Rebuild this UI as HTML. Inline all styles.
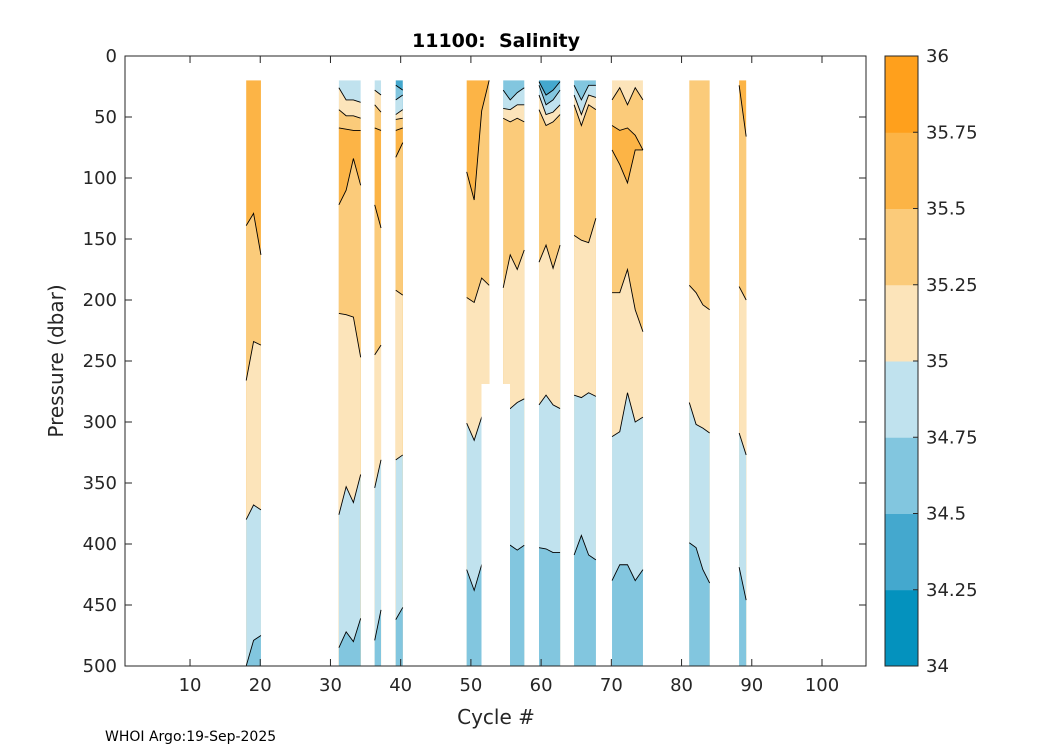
<!DOCTYPE html>
<html><head><meta charset="utf-8"><style>
body{margin:0;background:#fff}
svg text{font-family:"DejaVu Sans","Liberation Sans",sans-serif;fill:#262626}
</style></head><body>
<svg id="chart" width="1050" height="750" xmlns="http://www.w3.org/2000/svg">
<rect width="1050" height="750" fill="#fff"/>
<text x="496" y="47" text-anchor="middle" font-size="19" font-weight="bold" style="fill:#000">11100:&#160; Salinity</text>
<g id="plot"></g>
<text x="496" y="724" text-anchor="middle" font-size="20">Cycle #</text>
<text transform="translate(63,361) rotate(-90)" text-anchor="middle" font-size="20">Pressure (dbar)</text>
<text x="105" y="741" font-size="14" style="fill:#000">WHOI Argo:19-Sep-2025</text>
</svg>
<script>
const bandColors=["#0492BE","#44A8CE","#82C6DF","#C0E2EE","#FCE4BA","#FBCB7A","#FCB446","#FFA01C"];
const cbLabels=["34","34.25","34.5","34.75","35","35.25","35.5","35.75","36"];
const xTicks=[10,20,30,40,50,60,70,80,90,100];
const yTicks=[0,50,100,150,200,250,300,350,400,450,500];
const pTop=20, pBottom=500;
// strips: [startCycle, endCycle]
const stripRanges=[[18,20.1],[31.2,34.3],[36.3,37.2],[39.3,40.3],[49.4,52.6],[54.6,57.6],[59.7,62.7],[64.7,67.8],[70.1,74.5],[81.1,84.0],[88.2,89.2]];
const stripTopBand=[6,3,3,1,6,2,1,2,4,5,6];
// interfaces per strip: [bandBelow, pressures across strip]
const stripInterfaces=[
 [[5,[139,129,163]],[4,[266,234,237]],[3,[380,368,372]],[2,[500,479,475]]],
 [[4,[26,36,36,38]],[5,[44,49,49,51]],[6,[59,60,61,61]],[5,[122,110,84,106]],[4,[211,212,214,247]],[3,[376,353,366,343]],[2,[485,472,480,461]]],
 [[4,[28,32]],[5,[40,46]],[6,[59,61]],[5,[122,141]],[4,[245,237]],[3,[354,331]],[2,[479,454]]],
 [[2,[24,28]],[3,[36,32]],[4,[48,44]],[5,[52,51]],[6,[61,59]],[5,[83,71]],[4,[192,196]],[3,[331,327]],[2,[462,452]]],
 [[5,[95,118,45,20]],[4,[198,202,182,188]],[3,[301,315,296,296]],[2,[421,438,417,417]]],
 [[3,[28,36,30,26]],[4,[43,44,40,40]],[5,[51,54,51,54]],[4,[190,163,175,159]],[3,[284,289,284,281]],[2,[401,401,405,401]]],
 [[2,[21,32,28,21]],[3,[24,40,36,28]],[4,[32,48,46,40]],[5,[44,57,54,48]],[4,[169,155,174,155]],[3,[286,278,286,289]],[2,[403,404,407,407]]],
 [[3,[24,36,24,24]],[4,[32,48,32,34]],[5,[40,57,40,44]],[4,[147,151,153,133]],[3,[278,280,276,279]],[2,[409,393,409,413]]],
 [[5,[36,26,40,26,36]],[6,[57,61,59,65,77]],[5,[77,89,104,77,77]],[4,[194,194,175,208,226]],[3,[312,308,276,300,296]],[2,[430,417,417,430,421]]],
 [[4,[188,194,204,208]],[3,[284,302,305,309]],[2,[399,403,421,432]]],
 [[5,[24,66]],[4,[189,200]],[3,[309,327]],[2,[419,446]]]
];
const NS="http://www.w3.org/2000/svg";
const L=125,R=866,T=56,B=666;
const xs=c=>119.8+c*7.022;
const ys=p=>T+p*(B-T)/500;
const g=document.getElementById('plot');
function mk(tag,attrs,parent){const e=document.createElementNS(NS,tag);for(const k in attrs)e.setAttribute(k,attrs[k]);(parent||g).appendChild(e);return e;}
const plotBg=mk('rect',{x:L,y:T,width:R-L,height:B-T,fill:'#fff'});


stripRanges.forEach((r,si)=>{
  const sg=mk('g',{});
  
  
  const x0=xs(r[0]),x1=xs(r[1]);
  const top=mk('rect',{x:x0,y:ys(pTop),width:x1-x0,height:ys(pBottom)-ys(pTop),fill:bandColors[stripTopBand[si]]},sg);
  
  
  stripInterfaces[si].forEach(([band,ps])=>{
    const n=ps.length;
    const pts=ps.map((p,i)=>[x0+(x1-x0)*i/(n-1),ys(Math.max(p,pTop))]);
    const poly=pts.map(q=>q.join(',')).join(' ')+` ${x1},${ys(pBottom)} ${x0},${ys(pBottom)}`;
    const f=mk('polygon',{points:poly,fill:bandColors[band]},sg);
    
    
    if(ps.some(p=>p>pTop) && ps.some(p=>p<pBottom)){
      const ln=mk('polyline',{points:pts.map(q=>q.join(',')).join(' '),fill:'none',stroke:'#000','stroke-width':0.9},sg);
      
      
    }
  });
});
const notch=mk('rect',{x:481.5,y:384,width:28.5,height:B-384,fill:'#fff'});


const frame=mk('rect',{x:L,y:T,width:R-L,height:B-T,fill:'none',stroke:'#262626','stroke-width':1});


xTicks.forEach(v=>{
  const x=xs(v);
  mk('line',{x1:x,x2:x,y1:B,y2:B-7,stroke:'#262626'});
  mk('line',{x1:x,x2:x,y1:T,y2:T+7,stroke:'#262626'});
  const t=mk('text',{x:x,y:B+25,'text-anchor':'middle','font-size':18});
  t.textContent=v;
  
  
});
yTicks.forEach(v=>{
  const y=ys(v);
  mk('line',{x1:L,x2:L+7,y1:y,y2:y,stroke:'#262626'});
  mk('line',{x1:R,x2:R-7,y1:y,y2:y,stroke:'#262626'});
  const t=mk('text',{x:L-8,y:y+6,'text-anchor':'end','font-size':18});
  t.textContent=v;
  
  
});
// colorbar
const cbX=885,cbW=33,nb=bandColors.length,bh=(B-T)/nb;
bandColors.forEach((c,i)=>{
  const r=mk('rect',{x:cbX,y:B-(i+1)*bh,width:cbW,height:bh+0.5,fill:c});
  
  
});
const cbf=mk('rect',{x:cbX,y:T,width:cbW,height:B-T,fill:'none',stroke:'#262626'});


cbLabels.forEach((s,i)=>{
  const y=B-i*bh;
  mk('line',{x1:cbX+cbW-5,x2:cbX+cbW,y1:y,y2:y,stroke:'#262626'});
  const t=mk('text',{x:cbX+cbW+8,y:y+6,'font-size':18});
  t.textContent=s;
  
  
});
</script>
</body></html>
